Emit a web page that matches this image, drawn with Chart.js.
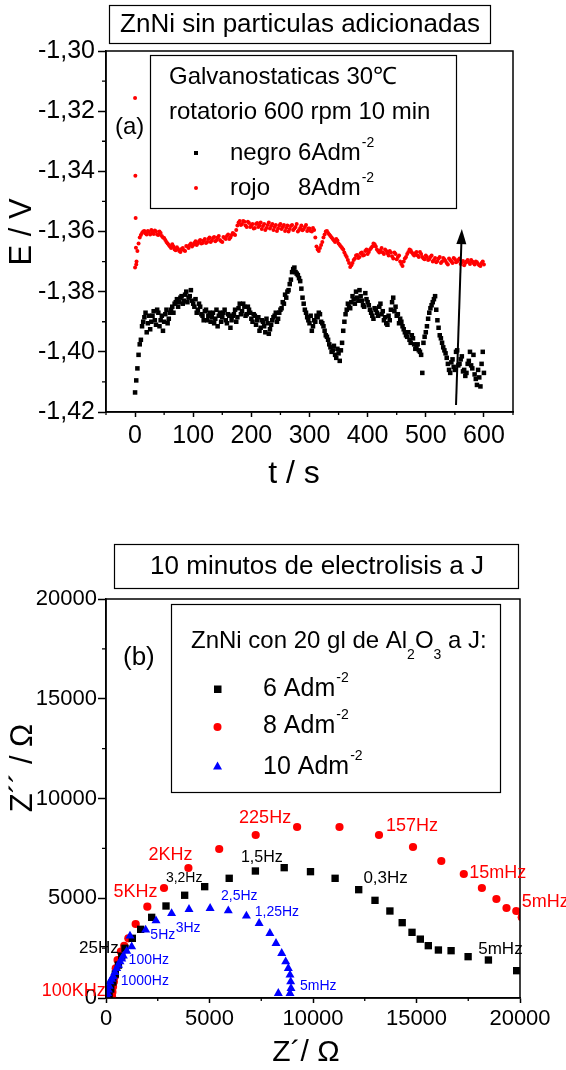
<!DOCTYPE html>
<html><head><meta charset="utf-8">
<script src="https://cdn.jsdelivr.net/npm/chart.js@4.4.1/dist/chart.umd.min.js"></script>
<style>
html,body{margin:0;padding:0;background:#fff;}
#wrap{position:relative;width:566px;height:1070px;overflow:hidden;background:#fff;}
canvas{position:absolute;left:0;}
#c1{top:0;} #c2{top:500px;}
</style></head><body>
<div id="wrap"><canvas id="c1" width="566" height="500"></canvas><canvas id="c2" width="566" height="570"></canvas></div>
<script>
// ---------- (a) Galvanostatic transients ----------
const tiempo = [0,4,8,12,16,20,24,28,32,36,40,44,48,52,56,60,64,68,72,76,80,84,88,92,96,100,104,108,112,116,120,124,128,132,136,140,144,148,152,156,160,164,168,172,176,180,184,188,192,196,200,204,208,212,216,220,224,228,232,236,240,244,248,252,256,260,264,268,272,276,280,284,288,292,296,300,304,308,312,316,320,324,328,332,336,340,344,348,352,356,360,364,368,372,376,380,384,388,392,396,400,404,408,412,416,420,424,428,432,436,440,444,448,452,456,460,464,468,472,476,480,484,488,492,496,500,504,508,512,516,520,524,528,532,536,540,544,548,552,556,560,564,568,572,576,580,584,588,592,596,600];
const negro = [-1.4135,-1.4055,-1.3975,-1.3915,-1.3885,-1.3935,-1.3880,-1.3900,-1.3865,-1.3910,-1.3870,-1.3895,-1.3930,-1.3875,-1.3905,-1.3870,-1.3850,-1.3840,-1.3825,-1.3835,-1.3815,-1.3830,-1.3800,-1.3820,-1.3795,-1.3840,-1.3825,-1.3860,-1.3850,-1.3880,-1.3865,-1.3895,-1.3870,-1.3885,-1.3905,-1.3860,-1.3880,-1.3900,-1.3870,-1.3895,-1.3875,-1.3920,-1.3880,-1.3860,-1.3885,-1.3840,-1.3865,-1.3850,-1.3875,-1.3860,-1.3890,-1.3875,-1.3910,-1.3885,-1.3920,-1.3900,-1.3935,-1.3905,-1.3925,-1.3895,-1.3880,-1.3900,-1.3870,-1.3855,-1.3840,-1.3820,-1.3795,-1.3760,-1.3725,-1.3735,-1.3745,-1.3765,-1.3820,-1.3860,-1.3885,-1.3905,-1.3930,-1.3895,-1.3880,-1.3870,-1.3900,-1.3915,-1.3945,-1.3960,-1.3985,-1.3995,-1.4010,-1.3990,-1.4030,-1.3970,-1.3900,-1.3860,-1.3850,-1.3835,-1.3825,-1.3800,-1.3830,-1.3815,-1.3845,-1.3805,-1.3835,-1.3860,-1.3880,-1.3855,-1.3870,-1.3850,-1.3875,-1.3895,-1.3905,-1.3880,-1.3860,-1.3820,-1.3850,-1.3875,-1.3890,-1.3915,-1.3935,-1.3950,-1.3960,-1.3945,-1.3975,-1.3985,-1.3995,-1.4010,-1.3970,-1.3935,-1.3890,-1.3855,-1.3835,-1.3815,-1.3895,-1.3945,-1.3970,-1.3995,-1.4020,-1.4060,-1.4035,-1.4050,-1.4000,-1.4045,-1.4025,-1.4065,-1.4080,-1.4040,-1.4000,-1.4055,-1.4075,-1.4110,-1.4085,-1.4040,-1.4070];
const rojo = [-1.3720,-1.3665,-1.3620,-1.3605,-1.3598,-1.3610,-1.3602,-1.3595,-1.3608,-1.3600,-1.3612,-1.3605,-1.3620,-1.3628,-1.3640,-1.3650,-1.3642,-1.3660,-1.3652,-1.3665,-1.3658,-1.3662,-1.3648,-1.3655,-1.3640,-1.3645,-1.3632,-1.3640,-1.3628,-1.3638,-1.3625,-1.3635,-1.3620,-1.3630,-1.3618,-1.3628,-1.3615,-1.3632,-1.3618,-1.3625,-1.3610,-1.3620,-1.3605,-1.3612,-1.3580,-1.3565,-1.3575,-1.3568,-1.3585,-1.3572,-1.3580,-1.3590,-1.3575,-1.3585,-1.3570,-1.3582,-1.3595,-1.3578,-1.3590,-1.3575,-1.3585,-1.3598,-1.3580,-1.3592,-1.3578,-1.3588,-1.3600,-1.3582,-1.3595,-1.3585,-1.3600,-1.3588,-1.3596,-1.3585,-1.3598,-1.3590,-1.3600,-1.3595,-1.3650,-1.3665,-1.3645,-1.3620,-1.3600,-1.3605,-1.3615,-1.3625,-1.3635,-1.3630,-1.3645,-1.3655,-1.3670,-1.3685,-1.3705,-1.3712,-1.3695,-1.3680,-1.3688,-1.3672,-1.3680,-1.3665,-1.3675,-1.3660,-1.3650,-1.3642,-1.3660,-1.3670,-1.3655,-1.3675,-1.3665,-1.3680,-1.3670,-1.3690,-1.3675,-1.3685,-1.3700,-1.3715,-1.3690,-1.3675,-1.3660,-1.3670,-1.3680,-1.3668,-1.3685,-1.3675,-1.3690,-1.3680,-1.3695,-1.3685,-1.3700,-1.3688,-1.3698,-1.3685,-1.3700,-1.3692,-1.3705,-1.3690,-1.3700,-1.3688,-1.3702,-1.3695,-1.3708,-1.3698,-1.3705,-1.3695,-1.3708,-1.3700,-1.3710,-1.3702,-1.3712,-1.3705,-1.3710];
const tiempo2 = [2,6,10,14,18,22,26,30,34,38,42,46,50,54,58,62,66,70,74,78,82,86,90,94,98,102,106,110,114,118,122,126,130,134,138,142,146,150,154,158,162,166,170,174,178,182,186,190,194,198,202,206,210,214,218,222,226,230,234,238,242,246,250,254,258,262,266,270,274,278,282,286,290,294,298,302,306,310,314,318,322,326,330,334,338,342,346,350,354,358,362,366,370,374,378,382,386,390,394,398,402,406,410,414,418,422,426,430,434,438,442,446,450,454,458,462,466,470,474,478,482,486,490,494,498,502,506,510,514,518,522,526,530,534,538,542,546,550,554,558,562,566,570,574,578,582,586,590,594,598];
const negro2 = [-1.4095,-1.4010,-1.3960,-1.3900,-1.3870,-1.3905,-1.3925,-1.3880,-1.3895,-1.3860,
 -1.3915,-1.3880,-1.3900,-1.3860,-1.3890,-1.3860,-1.3870,-1.3835,-1.3850,-1.3820,
 -1.3840,-1.3810,-1.3835,-1.3815,-1.3830,-1.3850,-1.3870,-1.3840,-1.3875,-1.3895,
 -1.3860,-1.3880,-1.3900,-1.3870,-1.3890,-1.3915,-1.3870,-1.3885,-1.3860,-1.3905,
 -1.3880,-1.3895,-1.3875,-1.3900,-1.3855,-1.3875,-1.3840,-1.3880,-1.3850,-1.3870,
 -1.3900,-1.3880,-1.3895,-1.3930,-1.3895,-1.3915,-1.3890,-1.3940,-1.3910,-1.3885,
 -1.3870,-1.3890,-1.3860,-1.3835,-1.3810,-1.3800,-1.3775,-1.3735,-1.3720,-1.3740,
 -1.3755,-1.3790,-1.3840,-1.3870,-1.3895,-1.3880,-1.3915,-1.3900,-1.3885,-1.3875,
 -1.3905,-1.3930,-1.3950,-1.3975,-1.4000,-1.3980,-1.4020,-1.4005,-1.3995,-1.3930,
 -1.3875,-1.3840,-1.3855,-1.3815,-1.3840,-1.3820,-1.3795,-1.3830,-1.3850,-1.3825,
 -1.3845,-1.3870,-1.3890,-1.3860,-1.3880,-1.3840,-1.3865,-1.3885,-1.3910,-1.3895,
 -1.3835,-1.3865,-1.3880,-1.3905,-1.3900,-1.3925,-1.3945,-1.3935,-1.3970,-1.3955,
 -1.3990,-1.3975,-1.4000,-1.4070,-1.3950,-1.3915,-1.3870,-1.3845,-1.3825,-1.3860,
 -1.3920,-1.3955,-1.3985,-1.4005,-1.4040,-1.4070,-1.4025,-1.4060,-1.3995,-1.4040,
 -1.4015,-1.4060,-1.4070,-1.4030,-1.4045,-1.4010,-1.4090,-1.4060,-1.4115,-1.4000];
const rojo2 = [-1.3710,-1.3640,-1.3612,-1.3600,-1.3607,-1.3598,-1.3610,-1.3603,-1.3597,-1.3610,
 -1.3600,-1.3615,-1.3622,-1.3635,-1.3645,-1.3655,-1.3650,-1.3662,-1.3658,-1.3668,
 -1.3655,-1.3665,-1.3650,-1.3645,-1.3650,-1.3638,-1.3645,-1.3632,-1.3640,-1.3630,
 -1.3638,-1.3625,-1.3635,-1.3622,-1.3632,-1.3620,-1.3628,-1.3635,-1.3622,-1.3615,
 -1.3625,-1.3612,-1.3608,-1.3595,-1.3570,-1.3578,-1.3565,-1.3580,-1.3568,-1.3585,
 -1.3575,-1.3588,-1.3572,-1.3580,-1.3592,-1.3575,-1.3588,-1.3570,-1.3582,-1.3595,
 -1.3578,-1.3590,-1.3575,-1.3585,-1.3598,-1.3580,-1.3592,-1.3578,-1.3590,-1.3575,
 -1.3595,-1.3580,-1.3592,-1.3578,-1.3590,-1.3598,-1.3588,-1.3620,-1.3660,-1.3655,
 -1.3635,-1.3610,-1.3598,-1.3610,-1.3620,-1.3630,-1.3625,-1.3640,-1.3650,-1.3660,
 -1.3678,-1.3695,-1.3718,-1.3705,-1.3690,-1.3678,-1.3685,-1.3670,-1.3678,-1.3660,
 -1.3668,-1.3655,-1.3640,-1.3650,-1.3665,-1.3662,-1.3670,-1.3660,-1.3672,-1.3665,
 -1.3682,-1.3670,-1.3692,-1.3680,-1.3708,-1.3700,-1.3685,-1.3668,-1.3662,-1.3675,
 -1.3672,-1.3680,-1.3668,-1.3685,-1.3692,-1.3685,-1.3692,-1.3680,-1.3695,-1.3702,
 -1.3690,-1.3705,-1.3688,-1.3698,-1.3710,-1.3695,-1.3705,-1.3692,-1.3700,-1.3690,
 -1.3702,-1.3712,-1.3700,-1.3702,-1.3695,-1.3705,-1.3700,-1.3708,-1.3715,-1.3700];
const rojoInicioT = [0, 0.5, 1, 1.5, 2.5];
const rojoInicioE = [-1.3156, -1.3415, -1.3555, -1.3654, -1.3700];
const tTicks = [0, 100, 200, 300, 400, 500, 600];
const tMenores = [-50, 50, 150, 250, 350, 450, 550, 650];
const eTicks = [-1.30, -1.32, -1.34, -1.36, -1.38, -1.40, -1.42];
const eMenores = [-1.31, -1.33, -1.35, -1.37, -1.39, -1.41];
const flechaT = [552, 562];
const flechaE = [-1.4177, -1.3592];

// ---------- (b) Nyquist ----------
const zr6 = [150, 230, 330, 450, 600, 760, 918, 1272, 1674, 2206, 2899, 3800, 4768, 5952, 7217, 8609, 9879, 11068, 12208, 12995, 13715, 14309, 14783, 15184, 15570, 16058, 16671, 17493, 18474, 19840];
const zi6 = [150, 450, 800, 1200, 1650, 2100, 2491, 2992, 3443, 4043, 4612, 5150, 5581, 6000, 6366, 6533, 6333, 6000, 5430, 4895, 4361, 3776, 3292, 2950, 2623, 2406, 2372, 2072, 1905, 1370];
const zr8 = [290, 310, 340, 380, 420, 470, 560, 720, 880, 1079, 1433, 1997, 2802, 3981, 5469, 7232, 9232, 11280, 13188, 14831, 16198, 17285, 18159, 18860, 19348, 19821, 20082];
const zi8 = [80, 300, 560, 820, 1070, 1490, 1900, 2320, 2620, 2992, 3709, 4577, 5514, 6516, 7469, 8170, 8571, 8571, 8170, 7569, 6867, 6216, 5514, 4962, 4511, 4361, 4050];
const zr10 = [60, 80, 113, 150, 193, 270, 354, 430, 515, 600, 676, 760, 837, 1000, 1240, 1159, 1916, 2415, 3169, 4010, 5029, 5908, 6783, 7396, 7918, 8213, 8488, 8681, 8808, 8889, 8922, 8937, 8889, 8325];
const zi10 = [80, 236, 401, 600, 817, 950, 1068, 1280, 1489, 1650, 1820, 1960, 2105, 2350, 2573, 3108, 3409, 3875, 4244, 4445, 4496, 4376, 4110, 3744, 3243, 2742, 2241, 1820, 1489, 1153, 817, 486, 236, 236];
const zTicks = [0, 5000, 10000, 15000, 20000];
const zMenores = [2500, 7500, 12500, 17500];
const etiquetas = [
  {t:'100KHz', x:-3108, y:351, c:'#ff0000', s:18},
  {t:'5KHz', x:357, y:5313, c:'#ff0000', s:18},
  {t:'2KHz', x:2058, y:7168, c:'#ff0000', s:18},
  {t:'225Hz', x:6430, y:9023, c:'#ff0000', s:18},
  {t:'157Hz', x:13522, y:8622, c:'#ff0000', s:18},
  {t:'15mHz', x:17546, y:6266, c:'#ff0000', s:18},
  {t:'5mHz', x:20082, y:4812, c:'#ff0000', s:18},
  {t:'25Hz', x:-1304, y:2506, c:'#000000', s:17},
  {t:'3,2Hz', x:2894, y:6015, c:'#000000', s:14},
  {t:'1,5Hz', x:6517, y:7018, c:'#000000', s:16},
  {t:'0,3Hz', x:12435, y:6015, c:'#000000', s:17},
  {t:'5mHz', x:17983, y:2456, c:'#000000', s:17},
  {t:'2,5Hz', x:5556, y:5113, c:'#0000ff', s:14},
  {t:'1,25Hz', x:7184, y:4326, c:'#0000ff', s:14},
  {t:'3Hz', x:3367, y:3524, c:'#0000ff', s:14},
  {t:'5Hz', x:2143, y:3158, c:'#0000ff', s:14},
  {t:'100Hz', x:1092, y:1905, c:'#0000ff', s:14},
  {t:'1000Hz', x:709, y:867, c:'#0000ff', s:14},
  {t:'5mHz', x:9372, y:601, c:'#0000ff', s:14}
];

const FONT = "'Liberation Sans', Arial, Helvetica, sans-serif";
Chart.defaults.font.family = FONT;
Chart.defaults.color = '#000';

function txt(ctx, s, x, y, size, color, align) {
  ctx.font = size + 'px ' + FONT;
  ctx.fillStyle = color || '#000';
  ctx.textAlign = align || 'left';
  ctx.textBaseline = 'middle';
  ctx.fillText(s, x, y);
  return ctx.measureText(s).width;
}
function marco(chart, mx, my, lx, ly) {
  const {ctx, chartArea: a, scales: {x, y}} = chart;
  ctx.strokeStyle = '#000';
  ctx.lineWidth = 1.5;
  ctx.strokeRect(a.left, a.top, a.right - a.left, a.bottom - a.top);
  ctx.lineWidth = 1.3;
  ctx.beginPath();
  mx.forEach(v => { const p = x.getPixelForValue(v); ctx.moveTo(p, a.bottom); ctx.lineTo(p, a.bottom + lx); });
  my.forEach(v => { const p = y.getPixelForValue(v); ctx.moveTo(a.left, p); ctx.lineTo(a.left - ly, p); });
  ctx.stroke();
}
function rotText(ctx, s, x, y, size) {
  ctx.save();
  ctx.translate(x, y);
  ctx.rotate(-Math.PI / 2);
  txt(ctx, s, 0, 0, size, '#000', 'center');
  ctx.restore();
}
function escala(min, max, ticks, cb, size, tl, pad, fitKey, fitVal) {
  return {
    type: 'linear', min: min, max: max,
    afterFit: s => { s[fitKey] = fitVal; },
    afterBuildTicks: s => { s.ticks = ticks.map(v => ({value: v})); },
    ticks: { autoSkip: false, maxRotation: 0, padding: pad, color: '#000', font: {size: size, family: FONT}, callback: cb },
    grid: { drawOnChartArea: false, drawTicks: true, tickLength: tl, tickWidth: 1.5, tickColor: '#000' },
    border: { display: true, color: '#000', width: 1.5 }
  };
}
const pares = (xs, ys) => xs.map((v, i) => ({x: v, y: ys[i]}));

const decoA = {
  id: 'decoA',
  afterDraw(chart) {
    const {ctx, scales: {x, y}} = chart;
    ctx.save();
    marco(chart, tMenores, eMenores, 3, 4);
    const x0 = x.getPixelForValue(flechaT[0]), y0 = y.getPixelForValue(flechaE[0]);
    const x1 = x.getPixelForValue(flechaT[1]), y1 = y.getPixelForValue(flechaE[1]);
    const ang = Math.atan2(y1 - y0, x1 - x0), L = 15, H = 5;
    const bx = x1 - L * Math.cos(ang), by = y1 - L * Math.sin(ang);
    ctx.strokeStyle = '#000'; ctx.lineWidth = 2;
    ctx.beginPath(); ctx.moveTo(x0, y0); ctx.lineTo(bx, by); ctx.stroke();
    ctx.fillStyle = '#000'; ctx.beginPath();
    ctx.moveTo(x1, y1);
    ctx.lineTo(bx + H * Math.sin(ang), by - H * Math.cos(ang));
    ctx.lineTo(bx - H * Math.sin(ang), by + H * Math.cos(ang));
    ctx.closePath(); ctx.fill();
    ctx.lineWidth = 1.2; ctx.strokeStyle = '#000';
    ctx.strokeRect(109.5, 5.5, 381, 38);
    txt(ctx, 'ZnNi sin particulas adicionadas', 300, 25, 26, '#000', 'center');
    ctx.strokeRect(150.5, 55.5, 306, 153);
    txt(ctx, 'Galvanostaticas 30℃', 169, 77, 24);
    txt(ctx, 'rotatorio 600 rpm 10 min', 169, 112, 24);
    ctx.fillStyle = '#000'; ctx.fillRect(194, 151, 4, 4);
    let w = txt(ctx, 'negro 6Adm', 230, 153, 24);
    txt(ctx, '-2', 230 + w + 1, 143, 14);
    ctx.fillStyle = '#ff0000'; ctx.beginPath(); ctx.arc(196, 188, 2, 0, 2 * Math.PI); ctx.fill();
    txt(ctx, 'rojo', 230, 188, 24);
    w = txt(ctx, '8Adm', 298, 188, 24);
    txt(ctx, '-2', 298 + w + 1, 178, 14);
    txt(ctx, '(a)', 115, 127, 24);
    txt(ctx, 't / s', 294, 474, 32, '#000', 'center');
    rotText(ctx, 'E / V', 22, 232, 31);
    ctx.restore();
  }
};

const decoB = {
  id: 'decoB',
  afterDraw(chart) {
    const {ctx, scales: {x, y}} = chart;
    ctx.save();
    marco(chart, zMenores, zMenores, 3, 4);
    ctx.lineWidth = 1.2; ctx.strokeStyle = '#000';
    ctx.strokeRect(114.5, 44.5, 404, 44);
    txt(ctx, '10 minutos de electrolisis a J', 317, 67, 26, '#000', 'center');
    ctx.strokeRect(171.5, 104.5, 329, 188);
    let px = 191;
    px += txt(ctx, 'ZnNi con 20 gl de Al', px, 141, 24);
    px += txt(ctx, '2', px, 155, 14);
    px += txt(ctx, 'O', px, 141, 24);
    px += txt(ctx, '3', px, 155, 14);
    txt(ctx, ' a J:', px, 141, 24);
    ctx.fillStyle = '#000'; ctx.fillRect(214, 185.5, 7.5, 7.5);
    ctx.fillStyle = '#ff0000'; ctx.beginPath(); ctx.arc(217.5, 227, 4, 0, 2 * Math.PI); ctx.fill();
    ctx.fillStyle = '#0000ff'; ctx.beginPath();
    ctx.moveTo(217.5, 261.5); ctx.lineTo(222, 269.5); ctx.lineTo(213, 269.5); ctx.closePath(); ctx.fill();
    let w = txt(ctx, '6 Adm', 263, 189, 25);
    txt(ctx, '-2', 263 + w + 1, 178, 14);
    w = txt(ctx, '8 Adm', 263, 226, 25);
    txt(ctx, '-2', 263 + w + 1, 215, 14);
    w = txt(ctx, '10 Adm', 263, 267, 25);
    txt(ctx, '-2', 263 + w + 1, 256, 14);
    txt(ctx, '(b)', 123, 158, 26);
    etiquetas.forEach(e => {
      txt(ctx, e.t, x.getPixelForValue(e.x), y.getPixelForValue(e.y), e.s, e.c, 'left');
    });
    txt(ctx, 'Z´/ Ω', 306, 553, 30, '#000', 'center');
    rotText(ctx, 'Z´´ / Ω', 23, 268, 31);
    ctx.restore();
  }
};

const fmtE = v => v.toFixed(2).replace('.', ',');
const fmtN = v => String(v);

new Chart(document.getElementById('c1'), {
  type: 'scatter',
  data: {
    datasets: [
      { label: 'negro 6Adm-2', data: pares(tiempo, negro).concat(pares(tiempo2, negro2)),
        pointStyle: 'rect', pointRadius: 3.2, backgroundColor: '#000', borderWidth: 0 },
      { label: 'rojo 8Adm-2', data: pares(rojoInicioT, rojoInicioE).concat(pares(tiempo, rojo), pares(tiempo2, rojo2)),
        pointStyle: 'circle', pointRadius: 2.0, backgroundColor: '#ff0000', borderWidth: 0 }
    ]
  },
  options: {
    responsive: false, animation: false, devicePixelRatio: 1, events: [],
    layout: { padding: { top: 51, right: 53, left: 0, bottom: 0 } },
    plugins: { legend: { display: false }, tooltip: { enabled: false } },
    scales: {
      x: escala(-50, 650, tTicks, fmtN, 25, 5, 4, 'height', 88),
      y: escala(-1.42, -1.30, eTicks, fmtE, 25, 8, 3, 'width', 106)
    }
  },
  plugins: [decoA]
});

new Chart(document.getElementById('c2'), {
  type: 'scatter',
  data: {
    datasets: [
      { label: '10 Adm-2', data: pares(zr10, zi10), order: 0,
        pointStyle: 'triangle', pointRadius: 5.2, backgroundColor: '#0000ff', borderWidth: 0 },
      { label: '6 Adm-2', data: pares(zr6, zi6), order: 1,
        pointStyle: 'rect', pointRadius: 5.2, backgroundColor: '#000', borderWidth: 0 },
      { label: '8 Adm-2', data: pares(zr8, zi8), order: 2,
        pointStyle: 'circle', pointRadius: 4.1, backgroundColor: '#ff0000', borderWidth: 0 }
    ]
  },
  options: {
    responsive: false, animation: false, devicePixelRatio: 1, events: [],
    layout: { padding: { top: 99, right: 46, left: 0, bottom: 0 } },
    plugins: { legend: { display: false }, tooltip: { enabled: false } },
    scales: {
      x: escala(0, 20000, zTicks, fmtN, 22, 5, 3, 'height', 72),
      y: escala(0, 20000, zTicks, fmtN, 22, 8, 1, 'width', 106)
    }
  },
  plugins: [decoB]
});
</script></body></html>
